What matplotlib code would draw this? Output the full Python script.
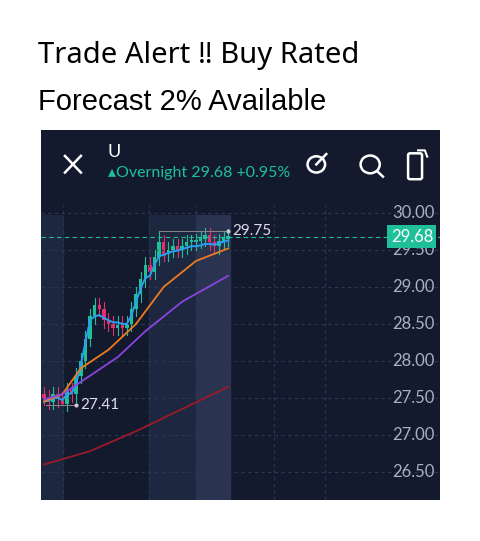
import matplotlib
matplotlib.use('Agg')
import matplotlib.pyplot as plt
from matplotlib.patches import Circle, FancyBboxPatch

# candles: open/close/high/low per bar
closes = [27.50, 27.45, 27.55, 27.48, 27.42, 27.60, 27.55, 27.80, 28.00, 28.30,
          28.60, 28.75, 28.70, 28.55, 28.50, 28.45, 28.50, 28.45, 28.50, 28.70,
          28.90, 29.10, 29.30, 29.20, 29.40, 29.60, 29.45, 29.50, 29.55, 29.50,
          29.55, 29.60, 29.60, 29.62, 29.65, 29.70, 29.60, 29.55, 29.62, 29.65, 29.68]
opens = [27.55] + closes[:-1]
highs = [max(o, c) + 0.1 for o, c in zip(opens, closes)]
lows = [min(o, c) - 0.1 for o, c in zip(opens, closes)]
highs[25] = 29.75
lows[4] = 27.41

blue = [27.45, 27.46, 27.50, 27.50, 27.47, 27.55, 27.56, 27.70, 27.95, 28.25,
        28.55, 28.60, 28.62, 28.58, 28.55, 28.52, 28.52, 28.50, 28.50, 28.62,
        28.80, 28.98, 29.12, 29.15, 29.30, 29.42, 29.43, 29.46, 29.48, 29.49,
        29.51, 29.53, 29.55, 29.55, 29.56, 29.58, 29.58, 29.57, 29.59, 29.61, 29.63]
orange_x = [0, 4, 8, 14, 20, 26, 33, 40]
orange_y = [27.45, 27.55, 27.90, 28.15, 28.50, 29.00, 29.35, 29.52]
purple_x = [0, 4, 10, 16, 22, 30, 40]
purple_y = [27.48, 27.55, 27.80, 28.05, 28.40, 28.80, 29.15]
red_x = [0, 10, 20, 30, 40]
red_y = [26.60, 26.78, 27.05, 27.35, 27.65]

yticks = [26.5, 27.0, 27.5, 28.0, 28.5, 29.0, 29.5, 30.0]
last_price = 29.68

BG = '#131a2e'
UP = '#1fbf9a'
DOWN = '#e0306f'

fig = plt.figure(figsize=(4.8, 5.41), dpi=100)
fig.patch.set_facecolor('white')
fig.text(38/480, 1 - 55/541, 'Trade Alert \u203c Buy Rated', fontsize=21, va='center', family=['Noto Sans', 'DejaVu Sans'])
fig.text(38/480, 1 - 102/541, 'Forecast 2% Available', fontsize=21, va='center', family=['Liberation Sans'])

ax = fig.add_axes([41/480, 1 - 500/541, 399/480, 370/541])
ax.set_facecolor(BG)
ax.set_xlim(-0.65, 86)
ax.set_ylim(26.12, 31.12)
for s in ax.spines.values():
    s.set_visible(False)
ax.set_xticks([])
ax.set_yticks([])

# session shading
ax.axvspan(-0.65, 4.1, ymax=0.77, color='#1e2740')
ax.axvspan(22.8, 33, ymax=0.77, color='#1e2740')
ax.axvspan(33, 40.5, ymax=0.77, color='#2a3350')

for p in yticks:
    ax.axhline(p, color='#2c3650', ls=(0, (3, 3)), lw=0.8)
    ax.text(75.6, p, f'{p:.2f}', color='#aab0c0', fontsize=12, va='center', family='Lato')
for xv in [4.1, 22.8, 33, 50, 61]:
    ax.plot([xv, xv], [26.12, 30.1], color='#2c3650', ls=(0, (3, 3)), lw=0.8)

for i, (o, c, h, l) in enumerate(zip(opens, closes, highs, lows)):
    col = UP if c >= o else DOWN
    ax.plot([i, i], [l, h], color=col, lw=0.8)
    ax.bar(i, max(abs(c - o), 0.04), bottom=min(o, c), width=0.75, color=col)

ax.plot(range(len(blue)), blue, color='#2a9df4', lw=1.4)
ax.plot(orange_x, orange_y, color='#f07a20', lw=1.3)
ax.plot(purple_x, purple_y, color='#8a45e0', lw=1.3)
ax.plot(red_x, red_y, color='#9b1a2a', lw=1.3)

ax.axhline(last_price, color='#1fbf9a', ls=(0, (4, 3)), lw=0.8)
ax.text(75.3, last_price, f'{last_price:.2f}', color='white', fontsize=12, va='center', family='Lato',
        zorder=5, bbox=dict(boxstyle='square,pad=0.2', fc='#1fbf9a', ec='none'))

ax.plot([25, 40], [29.75, 29.75], color='#888', lw=0.7)
ax.plot([40], [29.75], 'o', color='#ccc', ms=2)
ax.text(40.8, 29.75, '29.75', color='#dde', fontsize=11, va='center', family='Lato')
ax.plot([0.5, 7], [27.41, 27.41], color='#888', lw=0.7)
ax.plot([7], [27.41], 'o', color='#ccc', ms=2)
ax.text(7.8, 27.41, '27.41', color='#dde', fontsize=11, va='center', family='Lato')

# header
ta = ax.transAxes
ax.plot([0.06, 0.1], [0.885, 0.93], transform=ta, color='white', lw=1.8)
ax.plot([0.06, 0.1], [0.93, 0.885], transform=ta, color='white', lw=1.8)
ax.text(13.8, 30.82, 'U', color='white', fontsize=13, va='center', family='Lato')
ax.text(13.8, 30.54, '\u25b4Overnight 29.68 +0.95%', color='#1fbf9a', fontsize=11.5, va='center',
        family=['Lato', 'DejaVu Sans'])
# icons drawn as shapes in axes fraction
ax.add_patch(Circle((0.69, 0.907), 0.022, transform=ta, fill=False, ec='white', lw=1.8))
ax.plot([0.69, 0.715], [0.907, 0.935], transform=ta, color='white', lw=1.8)
ax.add_patch(Circle((0.825, 0.907), 0.024, transform=ta, fill=False, ec='white', lw=1.8))
ax.plot([0.842, 0.857], [0.889, 0.874], transform=ta, color='white', lw=1.8)
ax.add_patch(FancyBboxPatch((0.925, 0.872), 0.025, 0.06, boxstyle='round,pad=0.005', transform=ta,
                            fill=False, ec='white', lw=1.8))
ax.plot([0.945, 0.962, 0.968], [0.945, 0.945, 0.928], transform=ta, color='white', lw=1.5)

fig.savefig('out.png', dpi=100, facecolor='white')
